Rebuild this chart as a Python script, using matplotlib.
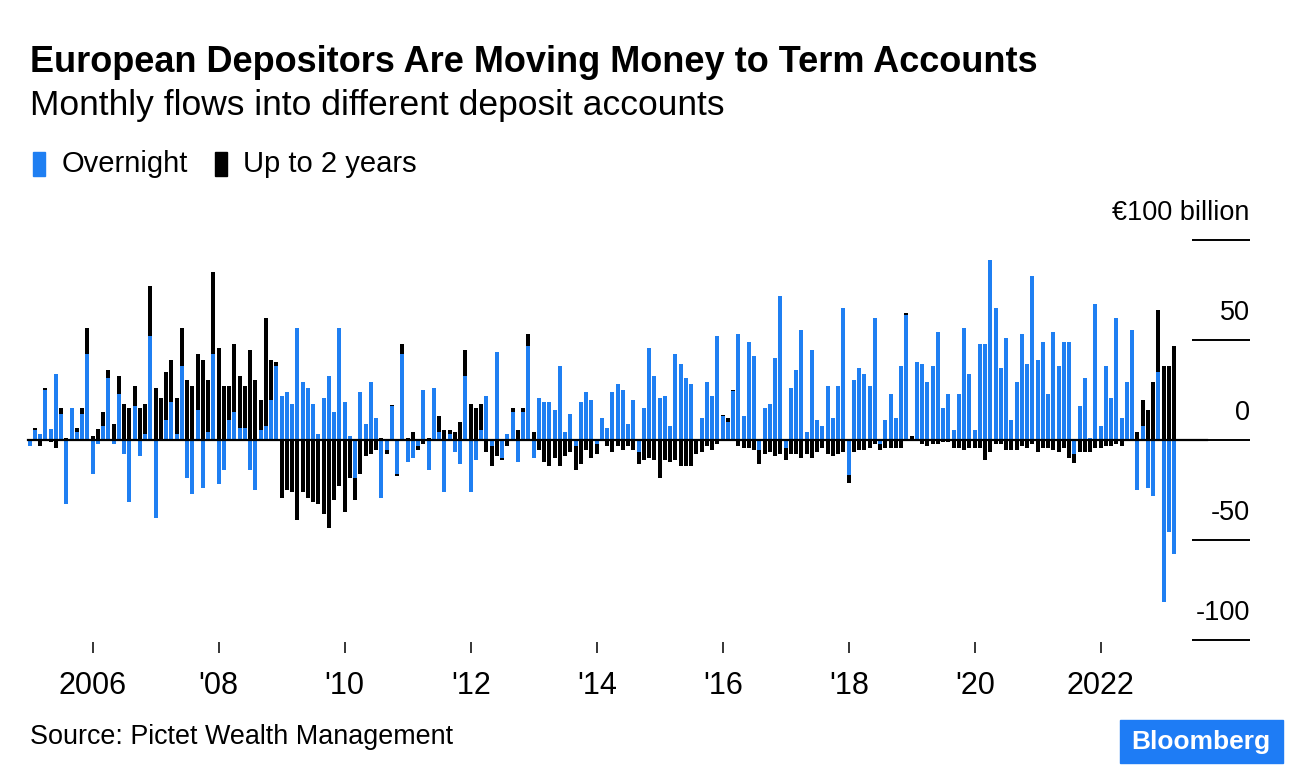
import matplotlib
matplotlib.use("Agg")
import matplotlib.pyplot as plt
import numpy as np
import pandas as pd

# monthly flows, EUR billion, Jan 2005 - Mar 2023
overnight = [
    -3, 5, 3, 25, 5.5, 33, 13, -32, 16, 4, 13, 43,
    -17, -2, 7, 31, -2, 23, -7, -31, 17, -8, 3, 52,
    -39, 0, 10, 19, 3, 37, -19, -27, 15, -24, 4, 43,
    -22, -15, 10, 14, 6, 6, -15, -25, 5, 7, 20, 37,
    22, 24, 18, 56, 29, 26, 18, 3, 21, 32, 14, 56,
    19, 2, -19, 24, 8, 29, 11, -29, -5, 17, -17, 43,
    -11, -9, -3, 25, -15, 26, 4, -26, 3, -6, -12, 32,
    -26, -10, 5, 22, -3, 44, -9, 3, 14, -11, 14, 47,
    -9, 21, 19, 19, 15, 37, 4, 13, -3, 19, 24, 20,
    -2, 11, 6, 24, 28, 25, 8, 20, -6, 16, 46, 32,
    21, 22, 7, 43, 38, 31, 28, 0, 11, 29, 22, 52,
    12, 9, 24.5, 53, 12, 49, 42, -5, 16, 18, 41, 72,
    -4, 26, 35, 55, 4, 45, 10, 7, 27, 11, 27, 66,
    -17.5, 30, 36, 33, 27, 61, -2, 10, 23, 11, 37, 62.5,
    0, 39, 38, 29, 37, 54, 16, 23, 5, 23, 56, 33,
    5, 48, 48, 90, 66, 36, 51, 10, 29, 53, 38, 82,
    40, 49, 23, 54, 37, 49, 49, -7, 17, 31, 1, 68,
    7, 37, 21, 61, 11, 29, 55, -25, 7, -24, -28, 34,
    -81, -46, -57,
]
up_to_2y = [
    0, 1, -3, 1, -1, -4, 3, 1, 0, 2, 3, 13,
    2, 5.5, 7, 4, 8, 9, 18, 16, 10, 16, 15, 25,
    26, 21, 24, 21, 18, 19, 30, 27, 28, 40, 26, 41,
    46, 27, 17, 34, 26, 21, 45, 30, 15, 54, 20, 2,
    -29, -25, -26, -40, -26, -29, -31, -32, -37, -44, -30, -23,
    -36, -19, -11, -17, -8, -7, -5, 1, -2, 0.5, -1, 5,
    1, 4, -2, -2, 1, 0, 8, 5, 2, 4, 9, 13,
    18, 16, 13, -6, -10, -8, -1, -3, 2, 5, 2, 6,
    4, -5, -11, -13, -9, -13, -8, -6, -12, -12, -5, -9,
    -5, 0, -3, -6, -3, -5, -3, -5, -6, -10, -9, -10,
    -19, -10, -11, -10, -13, -13, -13, -7, -6, -3, -5, -2,
    0.5, 2, 0.5, -3, -4, -4, -5, -7, -7, -6, -8, -7,
    -6, -7, -7, -9, -7, -9, -6, -4, -7, -8, -7, -6,
    -4, -6, -5, -5, -4, -2, -3, -4, -4, -4, -4, 1,
    2, 0, -2, -3, -2, -2, -1, -1, -4, -4, -5, -4,
    -4, -4, -10, -6, -2, -2, -5, -5, -5, -3, -4, -2,
    -6, -4, -4, -5, -6, -4, -9, -4.5, -6, -6, -6, -4,
    -4, -3, -3, -2, -3, 0, 0, 4, 13, 15, 29, 31,
    37, 37, 47,
]

months = pd.date_range("2005-01-01", periods=len(overnight), freq="MS")
tick_years = [2006, 2008, 2010, 2012, 2014, 2016, 2018, 2020, 2022]
tick_labels = ["2006", "'08", "'10", "'12", "'14", "'16", "'18", "'20", "2022"]
y_levels = [100, 50, 0, -50, -100]
y_labels = ["€100 billion", "50", "0", "-50", "-100"]

BLUE = "#1f7ff2"
plt.rcParams["font.family"] = ["Liberation Sans", "DejaVu Sans"]

ov = np.array(overnight, dtype=float)
tm = np.array(up_to_2y, dtype=float)
x = np.arange(len(ov))
# diverging stack: black sits on blue when signs agree
tm_bottom = np.where(np.sign(tm) == np.sign(ov), ov, 0)

W, H = 1296, 776
fig = plt.figure(figsize=(W / 100, H / 100), dpi=100)
ax = fig.add_axes([26 / W, (H - 642) / H, 1224 / W, 412 / H])
ax.set_xlim(-0.7, 232.43)
ax.set_ylim(-101, 105)

ax.bar(x, ov, width=0.76, color=BLUE, linewidth=0)
ax.bar(x, tm, bottom=tm_bottom, width=0.76, color="black", linewidth=0)

# zero line and right-hand value lines
ax.plot([-0.4, 224.2], [0, 0], color="black", lw=1.6, zorder=5)
ax.hlines(y_levels, 221.4, 232.4, color="black", lw=1.4, zorder=5)
for v, lab in zip(y_levels, y_labels):
    ax.text(232.4, v + 7, lab, ha="right", va="bottom", fontsize=19.5)

tick_pos = [months.get_loc(pd.Timestamp(f"{y}-01-01")) for y in tick_years]
ax.set_xticks(tick_pos)
ax.set_xticklabels(tick_labels, fontsize=22)
ax.tick_params(axis="x", length=8, width=1.1, pad=13)
ax.set_yticks([])
for s in ax.spines.values():
    s.set_visible(False)

fig.text(30 / W, 1 - 62 / H, "European Depositors Are Moving Money to Term Accounts",
         fontsize=26, fontweight="bold", va="center", ha="left")
fig.text(30 / W, 1 - 105 / H, "Monthly flows into different deposit accounts",
         fontsize=25.5, va="center", ha="left")

# legend
fig.patches.append(plt.Rectangle((33 / W, 1 - 176 / H), 12 / W, 24 / H,
                                 transform=fig.transFigure, color=BLUE))
fig.text(62 / W, 1 - 164 / H, "Overnight", fontsize=21, va="center")
fig.patches.append(plt.Rectangle((215 / W, 1 - 176 / H), 12 / W, 24 / H,
                                 transform=fig.transFigure, color="black"))
fig.text(243 / W, 1 - 164 / H, "Up to 2 years", fontsize=21, va="center")

fig.text(30 / W, 1 - 737 / H, "Source: Pictet Wealth Management", fontsize=19.4, va="center")
fig.patches.append(plt.Rectangle((1120 / W, 1 - 763 / H), 163 / W, 43 / H,
                                 transform=fig.transFigure, color="#1e7cf5"))
fig.text(1201 / W, 1 - 742 / H, "Bloomberg", fontsize=19, fontweight="bold",
         color="white", ha="center", va="center")

fig.savefig("out.png", dpi=100)
